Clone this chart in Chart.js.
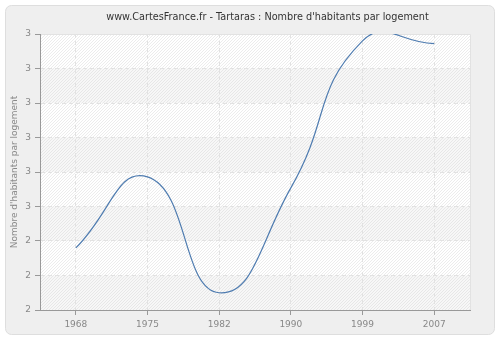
<!DOCTYPE html>
<html>
<head>
<meta charset="utf-8">
<script src="https://cdn.jsdelivr.net/npm/chart.js@4/dist/chart.umd.min.js"></script>
<style>
	html, body { margin: 0; padding: 0; background: #fff; }
	#wrap { width: 500px; height: 340px; }
</style>
</head>
<body>
<div id="wrap"><canvas id="chart" width="500" height="340"></canvas></div>
<script>
const years = ['1968', '1975', '1982', '1990', '1999', '2007'];
const habitantsParLogement = [2.44, 2.543, 2.375, 2.527, 2.74, 2.736];
const yTickLabels = ['2', '2', '2', '3', '3', '3', '3', '3', '3'];
const chartTitle = "www.CartesFrance.fr - Tartaras : Nombre d'habitants par logement";
const yTitle = "Nombre d'habitants par logement";

const fontFamily = 'DejaVu Sans, sans-serif';

// frame + hatched plot area
const backdrop = {
	id: 'backdrop',
	beforeDraw: (chart) => {
		const ctx = chart.ctx;
		const a = chart.chartArea;
		ctx.save();
		ctx.fillStyle = '#ffffff';
		ctx.fillRect(0, 0, chart.width, chart.height);
		ctx.beginPath();
		ctx.roundRect(5.5, 5.5, 489, 329, 6);
		ctx.fillStyle = '#efefef';
		ctx.fill();
		ctx.strokeStyle = '#dedede';
		ctx.lineWidth = 1;
		ctx.stroke();

		ctx.fillStyle = '#ffffff';
		ctx.fillRect(a.left, a.top, a.right - a.left, a.bottom - a.top);

		ctx.beginPath();
		ctx.rect(a.left, a.top, a.right - a.left, a.bottom - a.top);
		ctx.clip();

		// lighter alternate bands (top band stays white)
		const ys = chart.scales.y;
		const ticks = ys.ticks;
		ctx.fillStyle = '#f7f7f7';
		for (let i = 0; i < ticks.length - 1; i += 2) {
			const y1 = ys.getPixelForValue(ticks[i].value);
			const y2 = ys.getPixelForValue(ticks[i + 1].value);
			ctx.fillRect(a.left, y2, a.right - a.left, y1 - y2);
		}

		ctx.strokeStyle = 'rgba(200,200,200,0.35)';
		ctx.lineWidth = 1;
		ctx.beginPath();
		for (let x = a.left - (a.bottom - a.top); x < a.right; x += 3) {
			ctx.moveTo(x, a.bottom);
			ctx.lineTo(x + (a.bottom - a.top), a.top);
		}
		ctx.stroke();
		ctx.restore();

		ctx.save();
		ctx.strokeStyle = '#e2e2e2';
		ctx.beginPath();
		ctx.moveTo(a.left, a.top + 0.5);
		ctx.lineTo(a.right + 0.5, a.top + 0.5);
		ctx.lineTo(a.right + 0.5, a.bottom);
		ctx.stroke();
		ctx.restore();
	},
	afterDraw: (chart) => {
		// title sits centred between plot left and frame right
		const ctx = chart.ctx;
		ctx.save();
		ctx.fillStyle = '#333';
		ctx.font = '9.7px ' + fontFamily;
		ctx.textAlign = 'center';
		ctx.textBaseline = 'middle';
		ctx.fillText(chartTitle, (chart.chartArea.left + 495) / 2, 17);
		ctx.restore();
	}
};

new Chart(document.getElementById('chart').getContext('2d'), {
	type: 'line',
	data: {
		labels: years,
		datasets: [{
			label: yTitle,
			data: habitantsParLogement,
			borderColor: '#4f7cb0',
			borderWidth: 1.2,
			pointRadius: 0,
			tension: 0.5,
			capBezierPoints: false,
			fill: false
		}]
	},
	options: {
		responsive: false,
		animation: false,
		layout: { padding: { left: 0, right: 30, top: 34, bottom: 0 } },
		plugins: {
			legend: { display: false },
			tooltip: { enabled: false },
			title: { display: false }
		},
		scales: {
			x: {
				type: 'category',
				offset: true,
				grid: { offset: false, color: '#e2e2e2', tickColor: '#999', tickLength: 5 },
				border: { color: '#999', dash: [4, 3] },
				ticks: { color: '#888', font: { family: fontFamily, size: 9 }, padding: 4, maxRotation: 0 },
				afterFit: (s) => { s.height = 30; }
			},
			y: {
				min: 2.35,
				max: 2.75,
				grid: { color: '#e2e2e2', tickColor: '#999', tickLength: 5 },
				border: { color: '#999', dash: [4, 3] },
				ticks: {
					stepSize: 0.05,
					color: '#888',
					font: { family: fontFamily, size: 9 },
					padding: 4,
					callback: (v, i) => yTickLabels[i]
				},
				title: {
					display: true,
					text: yTitle,
					color: '#888',
					font: { family: fontFamily, size: 9 },
					padding: { top: 9, bottom: 2 }
				},
				afterFit: (s) => { s.width = 40; }
			}
		}
	},
	plugins: [backdrop]
});
</script>
</body>
</html>
